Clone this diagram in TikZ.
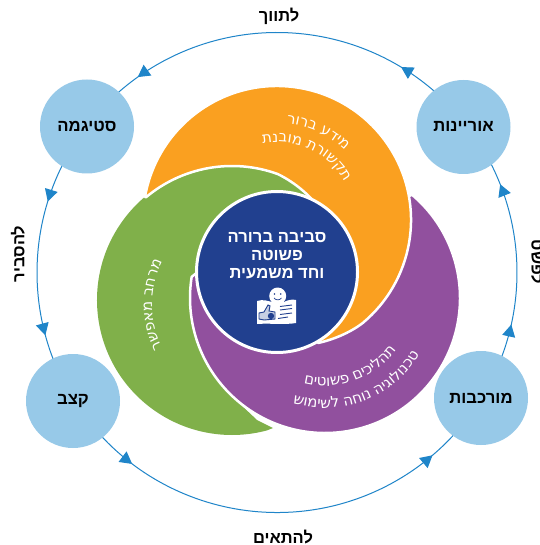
\documentclass[tikz,border=0pt]{standalone}
\usepackage{fontspec}
\usetikzlibrary{arrows.meta,decorations.markings,calc}
\TeXXeTstate=1
\newfontfamily\heb[Script=Hebrew]{DejaVu Sans}
\newfontfamily\hebl[Script=Hebrew]{Liberation Sans}
\definecolor{cblue}{HTML}{97C9E8}
\definecolor{rblue}{HTML}{1F85C9}
\definecolor{corange}{HTML}{FAA020}
\definecolor{cgreen}{HTML}{80B04A}
\definecolor{cpurple}{HTML}{91509E}
\definecolor{cnavy}{HTML}{21408F}
\newcommand{\hb}[1]{\beginR #1\endR}
\newcount\chrn
\newdimen\chw
\def\arcfont{\fontsize{15}{16}\selectfont\heb}
\def\gp{~}
\makeatletter
\def\chwnum{\strip@pt\chw}
\makeatother
\newcommand{\measurech}{\setbox0=\hbox{\pgfinterruptpicture\arcfont\ch\endpgfinterruptpicture}\chw=\wd0\relax\edef\cw{\chwnum}}
% #1 centre, #2 baseline radius, #3 mid angle, #4 reading sense (+1/-1), #5 rotation as a function of \cura, #6 letters
\newcommand{\arctext}[6]{%
  \gdef\totw{0}%
  \foreach \ch in {#6}{\measurech\pgfmathsetmacro\tw{\totw+\cw}\global\let\totw\tw}%
  \pgfmathsetmacro\ca{#3-(#4)*(\totw/2)/#2*57.29578}\global\let\cura\ca
  \foreach \ch in {#6}{%
    \measurech
    \pgfmathsetmacro\ca{\cura+(#4)*(\cw/2)/#2*57.29578}\global\let\cura\ca
    \pgfmathsetmacro\rt{#5}%
    \global\advance\chrn by 1
    \node[anchor=base,inner sep=0pt,text=white,rotate=\rt,font=\arcfont] (chr\the\chrn) at ($(#1)+(\cura:#2)$) {\ch};%
    \pgfmathsetmacro\ca{\cura+(#4)*(\cw/2)/#2*57.29578}\global\let\cura\ca
  }%
}
\tikzset{x=1pt,y=-1pt,
 hub/.style={circle,fill=cblue,minimum size=94pt,inner sep=0pt},
 hubtext/.style={inner sep=0pt,font=\fontsize{16.7}{18}\selectfont\hebl\bfseries},
 lab/.style={inner sep=0pt,font=\fontsize{16.5}{18}\selectfont\hebl\bfseries},
 flow/.style={rblue,line width=1pt},
 crescent/.style={draw=white,line width=2.5pt,line join=round},
 twoheads/.style 2 args={postaction={decorate,decoration={markings,
   mark=at position #1 with {\arrow[rblue]{Triangle[length=12pt,width=13pt]}},
   mark=at position #2 with {\arrow[rblue]{Triangle[length=12pt,width=13pt]}}}}}}
\begin{document}
\begin{tikzpicture}
\useasboundingbox (0,0) rectangle (539,545);
\fill[white] (0,0) rectangle (539,545);
\coordinate (c) at (277,272.5);
\coordinate (G) at (232,300);
\coordinate (P) at (325,298);
\coordinate (O) at (277,220);
\coordinate (rTR) at ($(c)+(-38:240)$);
\coordinate (rTL) at ($(c)+(-142.4:240)$);
\coordinate (rBL) at ($(c)+(147.8:240)$);
\coordinate (rBR) at ($(c)+(31.6:240)$);
% outer ring, four arcs from hub to hub
\draw[flow,twoheads={.2}{.838}] (rTR) arc[start angle=-38,end angle=-142.4,radius=240];
\draw[flow,twoheads={.292}{.756}] (rTL) arc[start angle=-142.4,end angle=-212.2,radius=240];
\draw[flow,twoheads={.178}{.845}] (rBL) arc[start angle=147.8,end angle=31.6,radius=240];
\draw[flow,twoheads={.274}{.764}] (rBR) arc[start angle=31.6,end angle=-38,radius=240];
% hubs
\node[hub] (hTR) at (463.5,127) {};
\node[hub] (hTL) at (87,126.5) {};
\node[hub] (hBL) at (73,401) {};
\node[hub] (hBR) at (481,398) {};
\node[hubtext] (tTR) at (463.5,126) {\hb{אוריינות}};
\node[hubtext] (tTL) at (87,126) {\hb{סטיגמה}};
\node[hubtext] (tBL) at (73,401) {\hb{קצב}};
\node[hubtext] (tBR) at (481,398) {\hb{מורכבות}};
% outer labels
\node[lab] (lT) at (279,16) {\hb{לתווך}};
\node[lab] (lB) at (283,537) {\hb{להתאים}};
\node[lab,rotate=90] (lL) at (18,254) {\hb{להסביר}};
\node[lab,rotate=-90] (lR) at (538,262) {\hb{לפשט}};
% green crescent
\fill[cgreen] ($(G)+(-52:135)$) arc[start angle=-52,end angle=-285,radius=135]
  -- (273,428) -- (257,420) -- (240,404) -- (250,300) -- (300,260) -- cycle;
% purple crescent
\path[fill=cpurple,crescent] ($(P)+(-50:135)$) arc[start angle=-50,end angle=189,radius=135]
  -- (210,262) -- (280,280) -- cycle;
% orange crescent
\path[fill=corange,crescent] ($(O)+(190:134)$) arc[start angle=190,end angle=410,radius=134]
  .. controls (350,333) and (332,340) .. (318,343) -- (300,300) -- (322,212)
  .. controls (312,197) and (296,183) .. ($(G)+(-70:134)$)
  arc[start angle=-70,end angle=-130,radius=134] -- cycle;
% centre
\node[circle,fill=cnavy,draw=white,line width=3pt,minimum size=161pt,inner sep=0pt] (core) at (277,272) {};
\node[inner sep=0pt,text=white,align=center,font=\fontsize{16.6}{18}\selectfont\hebl\bfseries] (coretext) at (277,256) {\hb{סביבה ברורה}\\\hb{פשוטה}\\\hb{וחד משמעית}};
% icon
\fill[white] (257,301) .. controls (263,299) and (268,301) .. (272,302) -- (284,302) .. controls (288,300) and (292,299) .. (296,300) -- (296,323) .. controls (285,325) and (270,323) .. (257,324) -- cycle;
\fill[white] (277.7,296) circle (8.5);
\fill[cnavy] (274.5,294) circle (.9) (280.8,294) circle (.9);
\draw[cnavy,line width=.7pt] (274,298) .. controls (276,300.5) and (279.5,300.5) .. (281.5,298);
\draw[cnavy,line width=.9pt,fill=cnavy!25!white] (259,313) -- (264,312) -- (268,305) -- (270,306) -- (269,311) -- (275,312) -- (275,319) -- (264,320) -- (259,319) -- cycle;
\fill[cnavy] (271,316) circle (3.2);
\draw[cnavy,line width=.9pt] (280,306.5) -- (292,305) (280,310) -- (292,308.5) (280,314.5) -- (292,313) (278,318.5) -- (288,317);
% crescent texts
\arctext{O}{97}{-65}{-1}{-(\cura+90)}{מ,י,ד,ע,\gp,ב,ר,ו,ר}
\arctext{O}{78}{-65}{-1}{-(\cura+90)}{ת,ק,ש,ו,ר,ת,\gp,מ,ו,ב,נ,ת}
\arctext{P}{88}{70}{1}{90-\cura}{ת,ה,ל,י,כ,י,ם,\gp,פ,ש,ו,ט,י,ם}
\arctext{P}{110}{69}{1}{90-\cura}{ט,כ,נ,ו,ל,ו,ג,י,ה,\gp,נ,ו,ח,ה,\gp,ל,ש,י,מ,ו,ש}
\coordinate (Gt) at (250,305);
\arctext{Gt}{98}{180}{-1}{-(\cura+90)}{מ,ר,ח,ב,\gp,מ,א,פ,ש,ר}
\end{tikzpicture}
\end{document}
